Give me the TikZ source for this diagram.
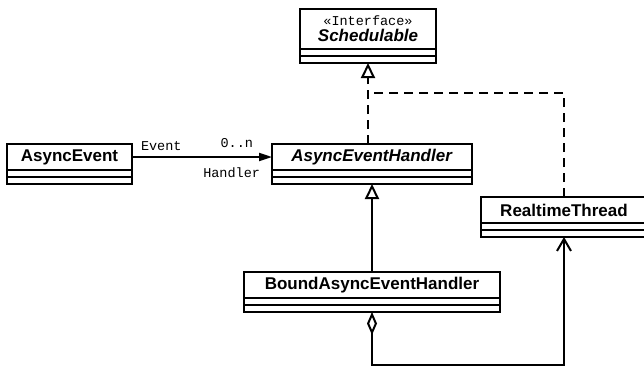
\documentclass[tikz,border=0pt]{standalone}
\usepackage{fontspec}
\setsansfont{Liberation Sans}
\setmonofont{Liberation Mono}
\usetikzlibrary{positioning,arrows.meta}
\tikzset{classname/.style={draw, line width=2pt, outer sep=0pt, inner sep=0pt, minimum height=26pt, font=\sffamily\bfseries\fontsize{17}{18}\selectfont}}
\tikzset{classpart/.style={draw, line width=2pt, outer sep=0pt, inner sep=0pt, minimum height=7pt}}
\tikzset{rolelabel/.style={font=\ttfamily\fontsize{13.5}{14}\selectfont, inner sep=0pt}}
\tikzset{link/.style={line width=2pt}}

\begin{document}
\begin{tikzpicture}[x=1pt,y=-1pt]
\useasboundingbox (0,0) rectangle (644,367);

\node[classname, minimum width=136pt, minimum height=40pt, align=center] (sched) at (368,29)
  {{\mdseries\ttfamily\fontsize{13.5}{14}\selectfont «Interface»}\\[-2pt]\textit{Schedulable}};
\node[classpart, minimum width=136pt, below=0pt of sched] (sched1) {};
\node[classpart, minimum width=136pt, below=0pt of sched1] (sched2) {};

\node[classname, minimum width=125pt] (ae) at (69.5,157) {AsyncEvent};
\node[classpart, minimum width=125pt, below=0pt of ae] (ae1) {};
\node[classpart, minimum width=125pt, below=0pt of ae1] (ae2) {};

\node[classname, minimum width=200pt] (aeh) at (372,157) {\textit{AsyncEventHandler}};
\node[classpart, minimum width=200pt, below=0pt of aeh] (aeh1) {};
\node[classpart, minimum width=200pt, below=0pt of aeh1] (aeh2) {};

\node[classname, minimum width=166pt] (rt) at (564,210) {RealtimeThread};
\node[classpart, minimum width=166pt, below=0pt of rt] (rt1) {};
\node[classpart, minimum width=166pt, below=0pt of rt1] (rt2) {};

\node[classname, minimum width=256pt] (baeh) at (372,285) {BoundAsyncEventHandler};
\node[classpart, minimum width=256pt, below=0pt of baeh] (baeh1) {};
\node[classpart, minimum width=256pt, below=0pt of baeh1] (baeh2) {};

\coordinate (split) at (368,93);
\coordinate (bottom) at (0,365);

% association
\draw[link, -{Triangle[length=13pt,width=8pt]}] (ae.east) -- (aeh.west)
  node[rolelabel, pos=0, anchor=south west, xshift=8pt, yshift=5pt] {Event}
  node[rolelabel, pos=1, anchor=south east, xshift=-18pt, yshift=8pt] {0..n}
  node[rolelabel, pos=1, anchor=north east, xshift=-11pt, yshift=-10pt] {Handler};

% generalization
\draw[link, -{Triangle[open,length=15pt,width=14pt]}] (baeh.north) -- (aeh2.south);

% realization
\draw[link, dash pattern=on 9pt off 6pt, -{Triangle[open,length=15pt,width=14pt]}] (sched2.south |- aeh.north) -- (sched2.south);
\draw[link, dash pattern=on 9pt off 6pt] (rt.north) |- (split);

% aggregation
\draw[link, {Diamond[open,length=23pt,width=10pt]}-{Straight Barb[length=12pt,width=14pt]}]
  (baeh2.south) -- (baeh2.south |- bottom) -| (rt2.south);
\end{tikzpicture}
\end{document}
